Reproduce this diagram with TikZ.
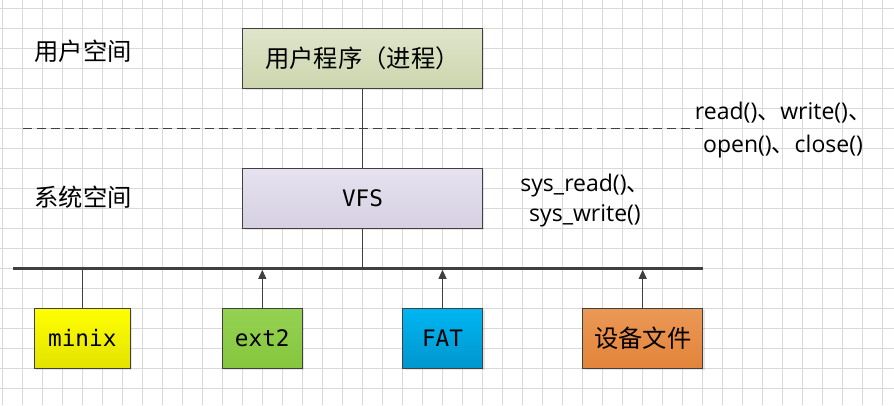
\documentclass[tikz,border=0pt]{standalone}
\usepackage{fontspec}
\setmonofont{DejaVu Sans Mono}
\newfontfamily\cjk{Noto Sans CJK SC}
\newfontfamily\latinfont{Open Sans}
\usetikzlibrary{arrows.meta,shadows}
\definecolor{edge}{HTML}{404040}
\definecolor{gridgray}{HTML}{D9D9D9}
\definecolor{progtop}{HTML}{DFE5CA}
\definecolor{progbot}{HTML}{CDD5AE}
\definecolor{vfstop}{HTML}{E6E2F0}
\definecolor{vfsbot}{HTML}{D6D0E2}
\definecolor{minixtop}{HTML}{FFFF00}
\definecolor{minixbot}{HTML}{E3E300}
\definecolor{exttop}{HTML}{94D152}
\definecolor{extbot}{HTML}{86C63E}
\definecolor{fattop}{HTML}{00B6F2}
\definecolor{fatbot}{HTML}{0096CE}
\definecolor{devtop}{HTML}{EB9856}
\definecolor{devbot}{HTML}{E3843A}
\newcommand{\dunhao}{{\cjk 、}}

\begin{document}
\begin{tikzpicture}[x=1pt,y=-1pt,
	box/.style={draw=edge,line width=1pt,minimum height=60pt,inner sep=0,
		drop shadow={shadow xshift=2pt,shadow yshift=-2pt,opacity=0.2}},
	mono/.style={font=\fontsize{22.7}{27}\ttfamily},
	zh/.style={font=\fontsize{24.3}{28}\cjk},
	link/.style={draw=edge,line width=1pt},
	up/.style={link,-{Triangle[length=9pt,width=8pt]}}]
	\useasboundingbox (0,0) rectangle (894,405);
	% grid
	\foreach \x in {2.7,22.7,...,882.7}
		\draw[gridgray,line width=1pt] (\x,0) -- (\x,405);
	\foreach \y in {8.3,28.3,...,388.3}
		\draw[gridgray,line width=1pt] (0,\y) -- (894,\y);
	\node[zh,anchor=west] (uspace) at (31,51.7) {用户空间};
	\node[zh,anchor=west] (kspace) at (31,197) {系统空间};
	\draw[edge,line width=1pt,dash pattern=on 9pt off 5pt] (22.7,128) -- (702.7,128);
	\node[box,zh,top color=progtop,bottom color=progbot,minimum width=239.6pt] (prog) at (362.5,58.3) {用户程序（进程）};
	\node[box,mono,top color=vfstop,bottom color=vfsbot,minimum width=239.6pt] (vfs) at (362.5,198.3) {VFS};
	\node[align=center,font=\fontsize{23}{33}\latinfont] (calls) at (783,130) {read()\dunhao write()\dunhao\\open()\dunhao close()};
	\node[align=center,font=\fontsize{23}{30}\latinfont] (syscalls) at (585,200.7) {sys\_read()\dunhao\\sys\_write()};
	% bus
	\coordinate (busL) at (13.3,268.3);
	\coordinate (busR) at (703.3,268.3);
	\draw[edge,line width=3pt] (busL) -- (busR);
	\node[box,mono,top color=minixtop,bottom color=minixbot,minimum width=96pt] (minix) at (82.3,338.3) {minix};
	\node[box,mono,top color=exttop,bottom color=extbot,minimum width=80pt] (ext2) at (262.3,338.3) {ext2};
	\node[box,mono,top color=fattop,bottom color=fatbot,minimum width=80pt] (fat) at (442.5,338.3) {FAT};
	\node[box,zh,top color=devtop,bottom color=devbot,minimum width=120pt] (dev) at (642.7,338.3) {设备文件};
	\draw[link] (prog) -- (vfs);
	\draw[link] (vfs) -- (vfs |- busL);
	\draw[link] (minix) -- (minix |- busL);
	\draw[up] (ext2) -- ([yshift=-1.5pt]ext2 |- busL);
	\draw[up] (fat) -- ([yshift=-1.5pt]fat |- busL);
	\draw[up] (dev) -- ([yshift=-1.5pt]dev |- busL);
\end{tikzpicture}
\end{document}
